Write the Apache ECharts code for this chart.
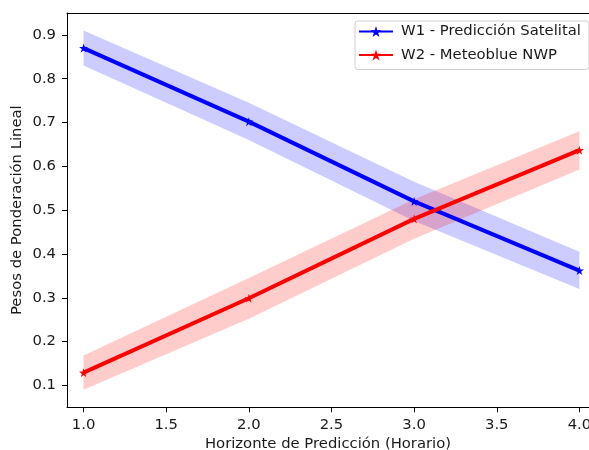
<!DOCTYPE html>
<html>
<head>
<meta charset="utf-8">
<script src="https://cdn.jsdelivr.net/npm/echarts@6/dist/echarts.min.js"></script>
<style>html,body{margin:0;padding:0;background:#fff}#c{width:589px;height:450px}</style>
</head>
<body>
<div id="c"></div>
<script>
var horizons = [1.0, 2.0, 3.0, 4.0];
var w1 = [0.870, 0.702, 0.520, 0.362];
var w1Upper = [0.910, 0.745, 0.565, 0.405];
var w1Lower = [0.830, 0.660, 0.475, 0.320];
var w2 = [0.129, 0.299, 0.480, 0.637];
var w2Upper = [0.168, 0.345, 0.525, 0.680];
var w2Lower = [0.090, 0.252, 0.435, 0.593];
var xTicks = [1.0, 1.5, 2.0, 2.5, 3.0, 3.5, 4.0];
var yTicks = [0.1, 0.2, 0.3, 0.4, 0.5, 0.6, 0.7, 0.8, 0.9];

var star = 'path://M50,0 L61.8,36.2 L100,36.2 L69.1,58.8 L80.9,95.1 L50,72.4 L19.1,95.1 L30.9,58.8 L0,36.2 L38.2,36.2 Z';
var FONT = 'DejaVu Sans';
var FS = 14.8;

function pairs(xs, ys) { return xs.map(function (x, i) { return [x, ys[i]]; }); }

function band(name, upper, lower, color) {
  return {
    type: 'custom',
    name: name + ' band',
    z: 1,
    silent: true,
    data: [[horizons[0], upper[0]]],
    renderItem: function (params, api) {
      var pts = [];
      for (var i = 0; i < horizons.length; i++) pts.push(api.coord([horizons[i], upper[i]]));
      for (var j = horizons.length - 1; j >= 0; j--) pts.push(api.coord([horizons[j], lower[j]]));
      return { type: 'polygon', shape: { points: pts }, style: { fill: color, stroke: null } };
    }
  };
}

function lineSeries(name, ys, color) {
  return {
    type: 'line',
    name: name,
    z: 3,
    data: pairs(horizons, ys),
    symbol: star,
    symbolSize: 9,
    showAllSymbol: true,
    lineStyle: { color: color, width: 4 },
    itemStyle: { color: color },
    animation: false
  };
}

var chart = echarts.init(document.getElementById('c'), null, { renderer: 'canvas' });
chart.setOption({
  animation: false,
  backgroundColor: '#ffffff',
  grid: { left: 67, top: 13, right: 0, bottom: 42.7, containLabel: false, outerBoundsMode: 'none', show: false },
  legend: {
    left: 355, top: 21,
    orient: 'vertical',
    data: ['W1 - Predicción Satelital', 'W2 - Meteoblue NWP'],
    itemWidth: 34, itemHeight: 14, itemGap: 8.5,
    padding: [3, 8, 7, 3],
    backgroundColor: 'rgba(255,255,255,0.8)',
    borderColor: '#d0d0d0', borderWidth: 1, borderRadius: 3,
    textStyle: { fontFamily: FONT, fontSize: FS, color: '#1a1a1a', padding: [0, 0, 0, 3] }
  },
  xAxis: [{
    type: 'value', min: 0.9, max: 4.058,
    name: 'Horizonte de Predicción (Horario)', nameLocation: 'middle', nameGap: 29, nameMoveOverlap: false,
    nameTextStyle: { fontFamily: FONT, fontSize: FS, color: '#1a1a1a' },
    axisLine: { show: true, onZero: false, lineStyle: { color: '#000', width: 1 } },
    axisTick: { show: true, length: 5, lineStyle: { color: '#000' }, customValues: xTicks },
    axisLabel: { fontFamily: FONT, fontSize: FS, color: '#1a1a1a', margin: 10, customValues: xTicks,
      formatter: function (v) { return v.toFixed(1); } },
    splitLine: { show: false }
  }, {
    type: 'value', position: 'top', min: 0.9, max: 4.058,
    axisLine: { show: true, onZero: false, lineStyle: { color: '#000', width: 1 } },
    axisTick: { show: false }, axisLabel: { show: false }, splitLine: { show: false }
  }],
  yAxis: {
    type: 'value', min: 0.05, max: 0.95,
    name: 'Pesos de Ponderación Lineal', nameLocation: 'middle', nameGap: 42, nameMoveOverlap: false,
    nameTextStyle: { fontFamily: FONT, fontSize: FS, color: '#1a1a1a' },
    axisLine: { show: true, onZero: false, lineStyle: { color: '#000', width: 1 } },
    axisTick: { show: true, length: 5, lineStyle: { color: '#000' }, customValues: yTicks },
    axisLabel: { fontFamily: FONT, fontSize: FS, color: '#1a1a1a', margin: 11, customValues: yTicks,
      formatter: function (v) { return v.toFixed(1); } },
    splitLine: { show: false }
  },
  series: [
    band('W1', w1Upper, w1Lower, 'rgba(0,0,255,0.2)'),
    band('W2', w2Upper, w2Lower, 'rgba(255,0,0,0.2)'),
    lineSeries('W1 - Predicción Satelital', w1, '#0000ff'),
    lineSeries('W2 - Meteoblue NWP', w2, '#ff0000')
  ]
});
</script>
</body>
</html>
